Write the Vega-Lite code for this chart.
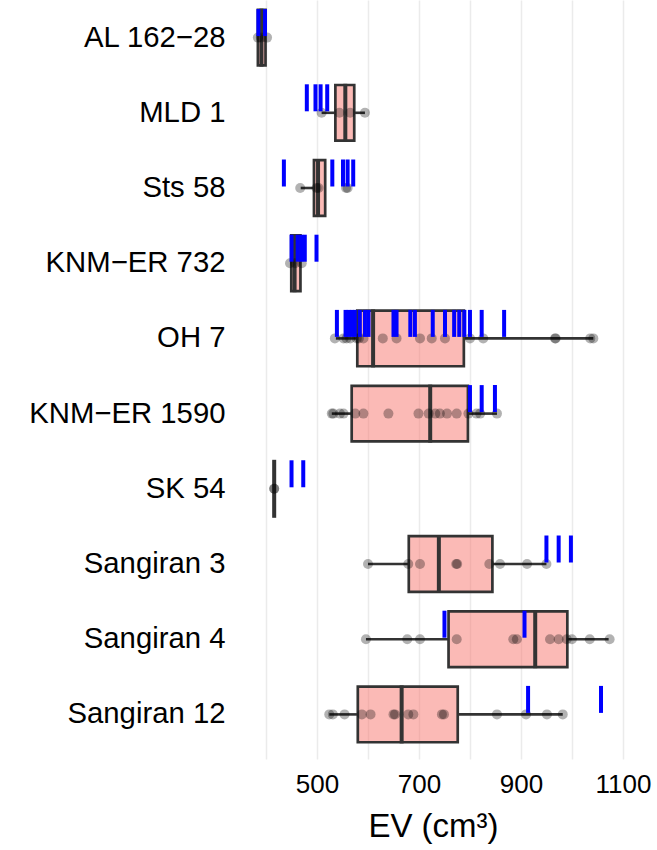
{
  "$schema": "https://vega.github.io/schema/vega-lite/v6.json",
  "width": 390,
  "height": 759,
  "autosize": "none",
  "padding": {"left": 238, "top": 0, "right": 29, "bottom": 91},
  "background": "white",
  "config": {
    "view": {"stroke": null},
    "font": "Liberation Sans",
    "axisY": {"ticks": false, "domain": false, "grid": false, "labelFontSize": 29.3, "labelColor": "black", "labelPadding": 13, "labelLimit": 300, "title": null},
    "axisX": {"ticks": false, "domain": false}
  },
  "datasets": {
    "stats": [
      {"specimen": "AL 162−28", "lower": 384, "q1": 384, "median": 391, "q3": 399, "upper": 399},
      {"specimen": "MLD 1", "lower": 509, "q1": 536, "median": 555.5, "q3": 573, "upper": 594},
      {"specimen": "Sts 58", "lower": 468, "q1": 494, "median": 502, "q3": 516, "upper": 516},
      {"specimen": "KNM−ER 732", "lower": 449, "q1": 449.5, "median": 456, "q3": 467.5, "upper": 468},
      {"specimen": "OH 7", "lower": 537, "q1": 579, "median": 610, "q3": 788, "upper": 1042},
      {"specimen": "KNM−ER 1590", "lower": 529, "q1": 568, "median": 722, "q3": 796, "upper": 853},
      {"specimen": "SK 54", "lower": 416, "q1": 416, "median": 416, "q3": 416, "upper": 416},
      {"specimen": "Sangiran 3", "lower": 600, "q1": 680, "median": 739, "q3": 844, "upper": 950},
      {"specimen": "Sangiran 4", "lower": 596, "q1": 758, "median": 928, "q3": 991, "upper": 1072},
      {"specimen": "Sangiran 12", "lower": 524, "q1": 580, "median": 666, "q3": 776, "upper": 982}
    ],
    "samples": [
      {"specimen": "AL 162−28", "ev": 384},
      {"specimen": "AL 162−28", "ev": 390},
      {"specimen": "AL 162−28", "ev": 402},
      {"specimen": "MLD 1", "ev": 509},
      {"specimen": "MLD 1", "ev": 544},
      {"specimen": "MLD 1", "ev": 565},
      {"specimen": "MLD 1", "ev": 594},
      {"specimen": "Sts 58", "ev": 467},
      {"specimen": "Sts 58", "ev": 499},
      {"specimen": "Sts 58", "ev": 503},
      {"specimen": "Sts 58", "ev": 557},
      {"specimen": "Sts 58", "ev": 560},
      {"specimen": "KNM−ER 732", "ev": 447},
      {"specimen": "KNM−ER 732", "ev": 457},
      {"specimen": "KNM−ER 732", "ev": 470},
      {"specimen": "OH 7", "ev": 535},
      {"specimen": "OH 7", "ev": 552},
      {"specimen": "OH 7", "ev": 558},
      {"specimen": "OH 7", "ev": 565},
      {"specimen": "OH 7", "ev": 578},
      {"specimen": "OH 7", "ev": 582},
      {"specimen": "OH 7", "ev": 591},
      {"specimen": "OH 7", "ev": 629},
      {"specimen": "OH 7", "ev": 656},
      {"specimen": "OH 7", "ev": 702},
      {"specimen": "OH 7", "ev": 725},
      {"specimen": "OH 7", "ev": 751},
      {"specimen": "OH 7", "ev": 800},
      {"specimen": "OH 7", "ev": 826},
      {"specimen": "OH 7", "ev": 967},
      {"specimen": "OH 7", "ev": 968},
      {"specimen": "OH 7", "ev": 1036},
      {"specimen": "OH 7", "ev": 1042},
      {"specimen": "KNM−ER 1590", "ev": 529},
      {"specimen": "KNM−ER 1590", "ev": 532},
      {"specimen": "KNM−ER 1590", "ev": 545},
      {"specimen": "KNM−ER 1590", "ev": 552},
      {"specimen": "KNM−ER 1590", "ev": 575},
      {"specimen": "KNM−ER 1590", "ev": 591},
      {"specimen": "KNM−ER 1590", "ev": 640},
      {"specimen": "KNM−ER 1590", "ev": 699},
      {"specimen": "KNM−ER 1590", "ev": 719},
      {"specimen": "KNM−ER 1590", "ev": 732},
      {"specimen": "KNM−ER 1590", "ev": 741},
      {"specimen": "KNM−ER 1590", "ev": 755},
      {"specimen": "KNM−ER 1590", "ev": 774},
      {"specimen": "KNM−ER 1590", "ev": 797},
      {"specimen": "KNM−ER 1590", "ev": 813},
      {"specimen": "KNM−ER 1590", "ev": 820},
      {"specimen": "KNM−ER 1590", "ev": 853},
      {"specimen": "SK 54", "ev": 416},
      {"specimen": "SK 54", "ev": 416},
      {"specimen": "Sangiran 3", "ev": 600},
      {"specimen": "Sangiran 3", "ev": 679},
      {"specimen": "Sangiran 3", "ev": 702},
      {"specimen": "Sangiran 3", "ev": 773},
      {"specimen": "Sangiran 3", "ev": 775},
      {"specimen": "Sangiran 3", "ev": 838},
      {"specimen": "Sangiran 3", "ev": 859},
      {"specimen": "Sangiran 3", "ev": 912},
      {"specimen": "Sangiran 3", "ev": 950},
      {"specimen": "Sangiran 4", "ev": 596},
      {"specimen": "Sangiran 4", "ev": 677},
      {"specimen": "Sangiran 4", "ev": 702},
      {"specimen": "Sangiran 4", "ev": 774},
      {"specimen": "Sangiran 4", "ev": 885},
      {"specimen": "Sangiran 4", "ev": 892},
      {"specimen": "Sangiran 4", "ev": 957},
      {"specimen": "Sangiran 4", "ev": 974},
      {"specimen": "Sangiran 4", "ev": 990},
      {"specimen": "Sangiran 4", "ev": 1000},
      {"specimen": "Sangiran 4", "ev": 1035},
      {"specimen": "Sangiran 4", "ev": 1074},
      {"specimen": "Sangiran 12", "ev": 524},
      {"specimen": "Sangiran 12", "ev": 531},
      {"specimen": "Sangiran 12", "ev": 554},
      {"specimen": "Sangiran 12", "ev": 588},
      {"specimen": "Sangiran 12", "ev": 605},
      {"specimen": "Sangiran 12", "ev": 650},
      {"specimen": "Sangiran 12", "ev": 653},
      {"specimen": "Sangiran 12", "ev": 679},
      {"specimen": "Sangiran 12", "ev": 689},
      {"specimen": "Sangiran 12", "ev": 745},
      {"specimen": "Sangiran 12", "ev": 749},
      {"specimen": "Sangiran 12", "ev": 853},
      {"specimen": "Sangiran 12", "ev": 910},
      {"specimen": "Sangiran 12", "ev": 951},
      {"specimen": "Sangiran 12", "ev": 982}
    ],
    "published": [
      {"specimen": "AL 162−28", "ev": 385},
      {"specimen": "AL 162−28", "ev": 398},
      {"specimen": "MLD 1", "ev": 480},
      {"specimen": "MLD 1", "ev": 497},
      {"specimen": "MLD 1", "ev": 507},
      {"specimen": "MLD 1", "ev": 520},
      {"specimen": "Sts 58", "ev": 435},
      {"specimen": "Sts 58", "ev": 530},
      {"specimen": "Sts 58", "ev": 551},
      {"specimen": "Sts 58", "ev": 560},
      {"specimen": "Sts 58", "ev": 571},
      {"specimen": "KNM−ER 732", "ev": 450},
      {"specimen": "KNM−ER 732", "ev": 462},
      {"specimen": "KNM−ER 732", "ev": 469},
      {"specimen": "KNM−ER 732", "ev": 476},
      {"specimen": "KNM−ER 732", "ev": 499},
      {"specimen": "OH 7", "ev": 539},
      {"specimen": "OH 7", "ev": 556},
      {"specimen": "OH 7", "ev": 562},
      {"specimen": "OH 7", "ev": 568},
      {"specimen": "OH 7", "ev": 574},
      {"specimen": "OH 7", "ev": 584},
      {"specimen": "OH 7", "ev": 594},
      {"specimen": "OH 7", "ev": 601},
      {"specimen": "OH 7", "ev": 650},
      {"specimen": "OH 7", "ev": 656},
      {"specimen": "OH 7", "ev": 683},
      {"specimen": "OH 7", "ev": 692},
      {"specimen": "OH 7", "ev": 727},
      {"specimen": "OH 7", "ev": 751},
      {"specimen": "OH 7", "ev": 769},
      {"specimen": "OH 7", "ev": 779},
      {"specimen": "OH 7", "ev": 789},
      {"specimen": "OH 7", "ev": 800},
      {"specimen": "OH 7", "ev": 823},
      {"specimen": "OH 7", "ev": 867},
      {"specimen": "KNM−ER 1590", "ev": 800},
      {"specimen": "KNM−ER 1590", "ev": 823},
      {"specimen": "KNM−ER 1590", "ev": 849},
      {"specimen": "SK 54", "ev": 450},
      {"specimen": "SK 54", "ev": 473},
      {"specimen": "Sangiran 3", "ev": 950},
      {"specimen": "Sangiran 3", "ev": 974},
      {"specimen": "Sangiran 3", "ev": 998},
      {"specimen": "Sangiran 4", "ev": 750},
      {"specimen": "Sangiran 4", "ev": 907},
      {"specimen": "Sangiran 12", "ev": 914},
      {"specimen": "Sangiran 12", "ev": 1057}
    ]
  },
  "encoding": {
    "y": {
      "field": "specimen",
      "type": "nominal",
      "sort": ["AL 162−28", "MLD 1", "Sts 58", "KNM−ER 732", "OH 7", "KNM−ER 1590", "SK 54", "Sangiran 3", "Sangiran 4", "Sangiran 12"],
      "scale": {"paddingInner": 0, "paddingOuter": 0.0465, "align": 0},
      "title": null
    }
  },
  "layer": [
    {
      "data": {"name": "stats"},
      "mark": {"type": "rule", "color": "#333333", "strokeWidth": 2.6},
      "encoding": {
        "x": {
          "field": "lower",
          "type": "quantitative",
          "title": "EV (cm³)",
          "scale": {"domain": [345, 1110], "nice": false, "zero": false},
          "axis": {
            "values": [400, 500, 600, 700, 800, 900, 1000, 1100],
            "format": "d",
            "labelExpr": "datum.value % 200 == 100 ? datum.label : ''",
            "grid": true,
            "gridColor": "#EBEBEB",
            "gridWidth": 1.5,
            "labelFontSize": 26,
            "labelColor": "black",
            "labelPadding": 12,
            "labelFlush": false,
            "titleFontSize": 33,
            "titleFontWeight": "normal",
            "titleColor": "black",
            "titlePadding": 13
          }
        },
        "x2": {"field": "q1"}
      }
    },
    {
      "data": {"name": "stats"},
      "mark": {"type": "rule", "color": "#333333", "strokeWidth": 2.6},
      "encoding": {
        "x": {"field": "q3", "type": "quantitative", "title": "EV (cm³)"},
        "x2": {"field": "upper"}
      }
    },
    {
      "data": {"name": "stats"},
      "mark": {"type": "bar", "height": {"band": 0.74}, "fill": "#F8766D", "fillOpacity": 0.5, "stroke": "#333333", "strokeWidth": 2.7},
      "encoding": {
        "x": {"field": "q1", "type": "quantitative", "title": "EV (cm³)"},
        "x2": {"field": "q3"}
      }
    },
    {
      "data": {"name": "stats"},
      "mark": {"type": "tick", "color": "#333333", "thickness": 4, "size": 58, "opacity": 1},
      "encoding": {
        "x": {"field": "median", "type": "quantitative", "title": "EV (cm³)"}
      }
    },
    {
      "data": {"name": "samples"},
      "mark": {"type": "circle", "size": 100, "color": "black", "opacity": 0.3},
      "encoding": {
        "x": {"field": "ev", "type": "quantitative", "title": "EV (cm³)"}
      }
    },
    {
      "data": {"name": "published"},
      "mark": {"type": "tick", "color": "#0000FF", "thickness": 4, "size": 27, "yOffset": -15, "opacity": 1},
      "encoding": {
        "x": {"field": "ev", "type": "quantitative", "title": "EV (cm³)"}
      }
    }
  ]
}
